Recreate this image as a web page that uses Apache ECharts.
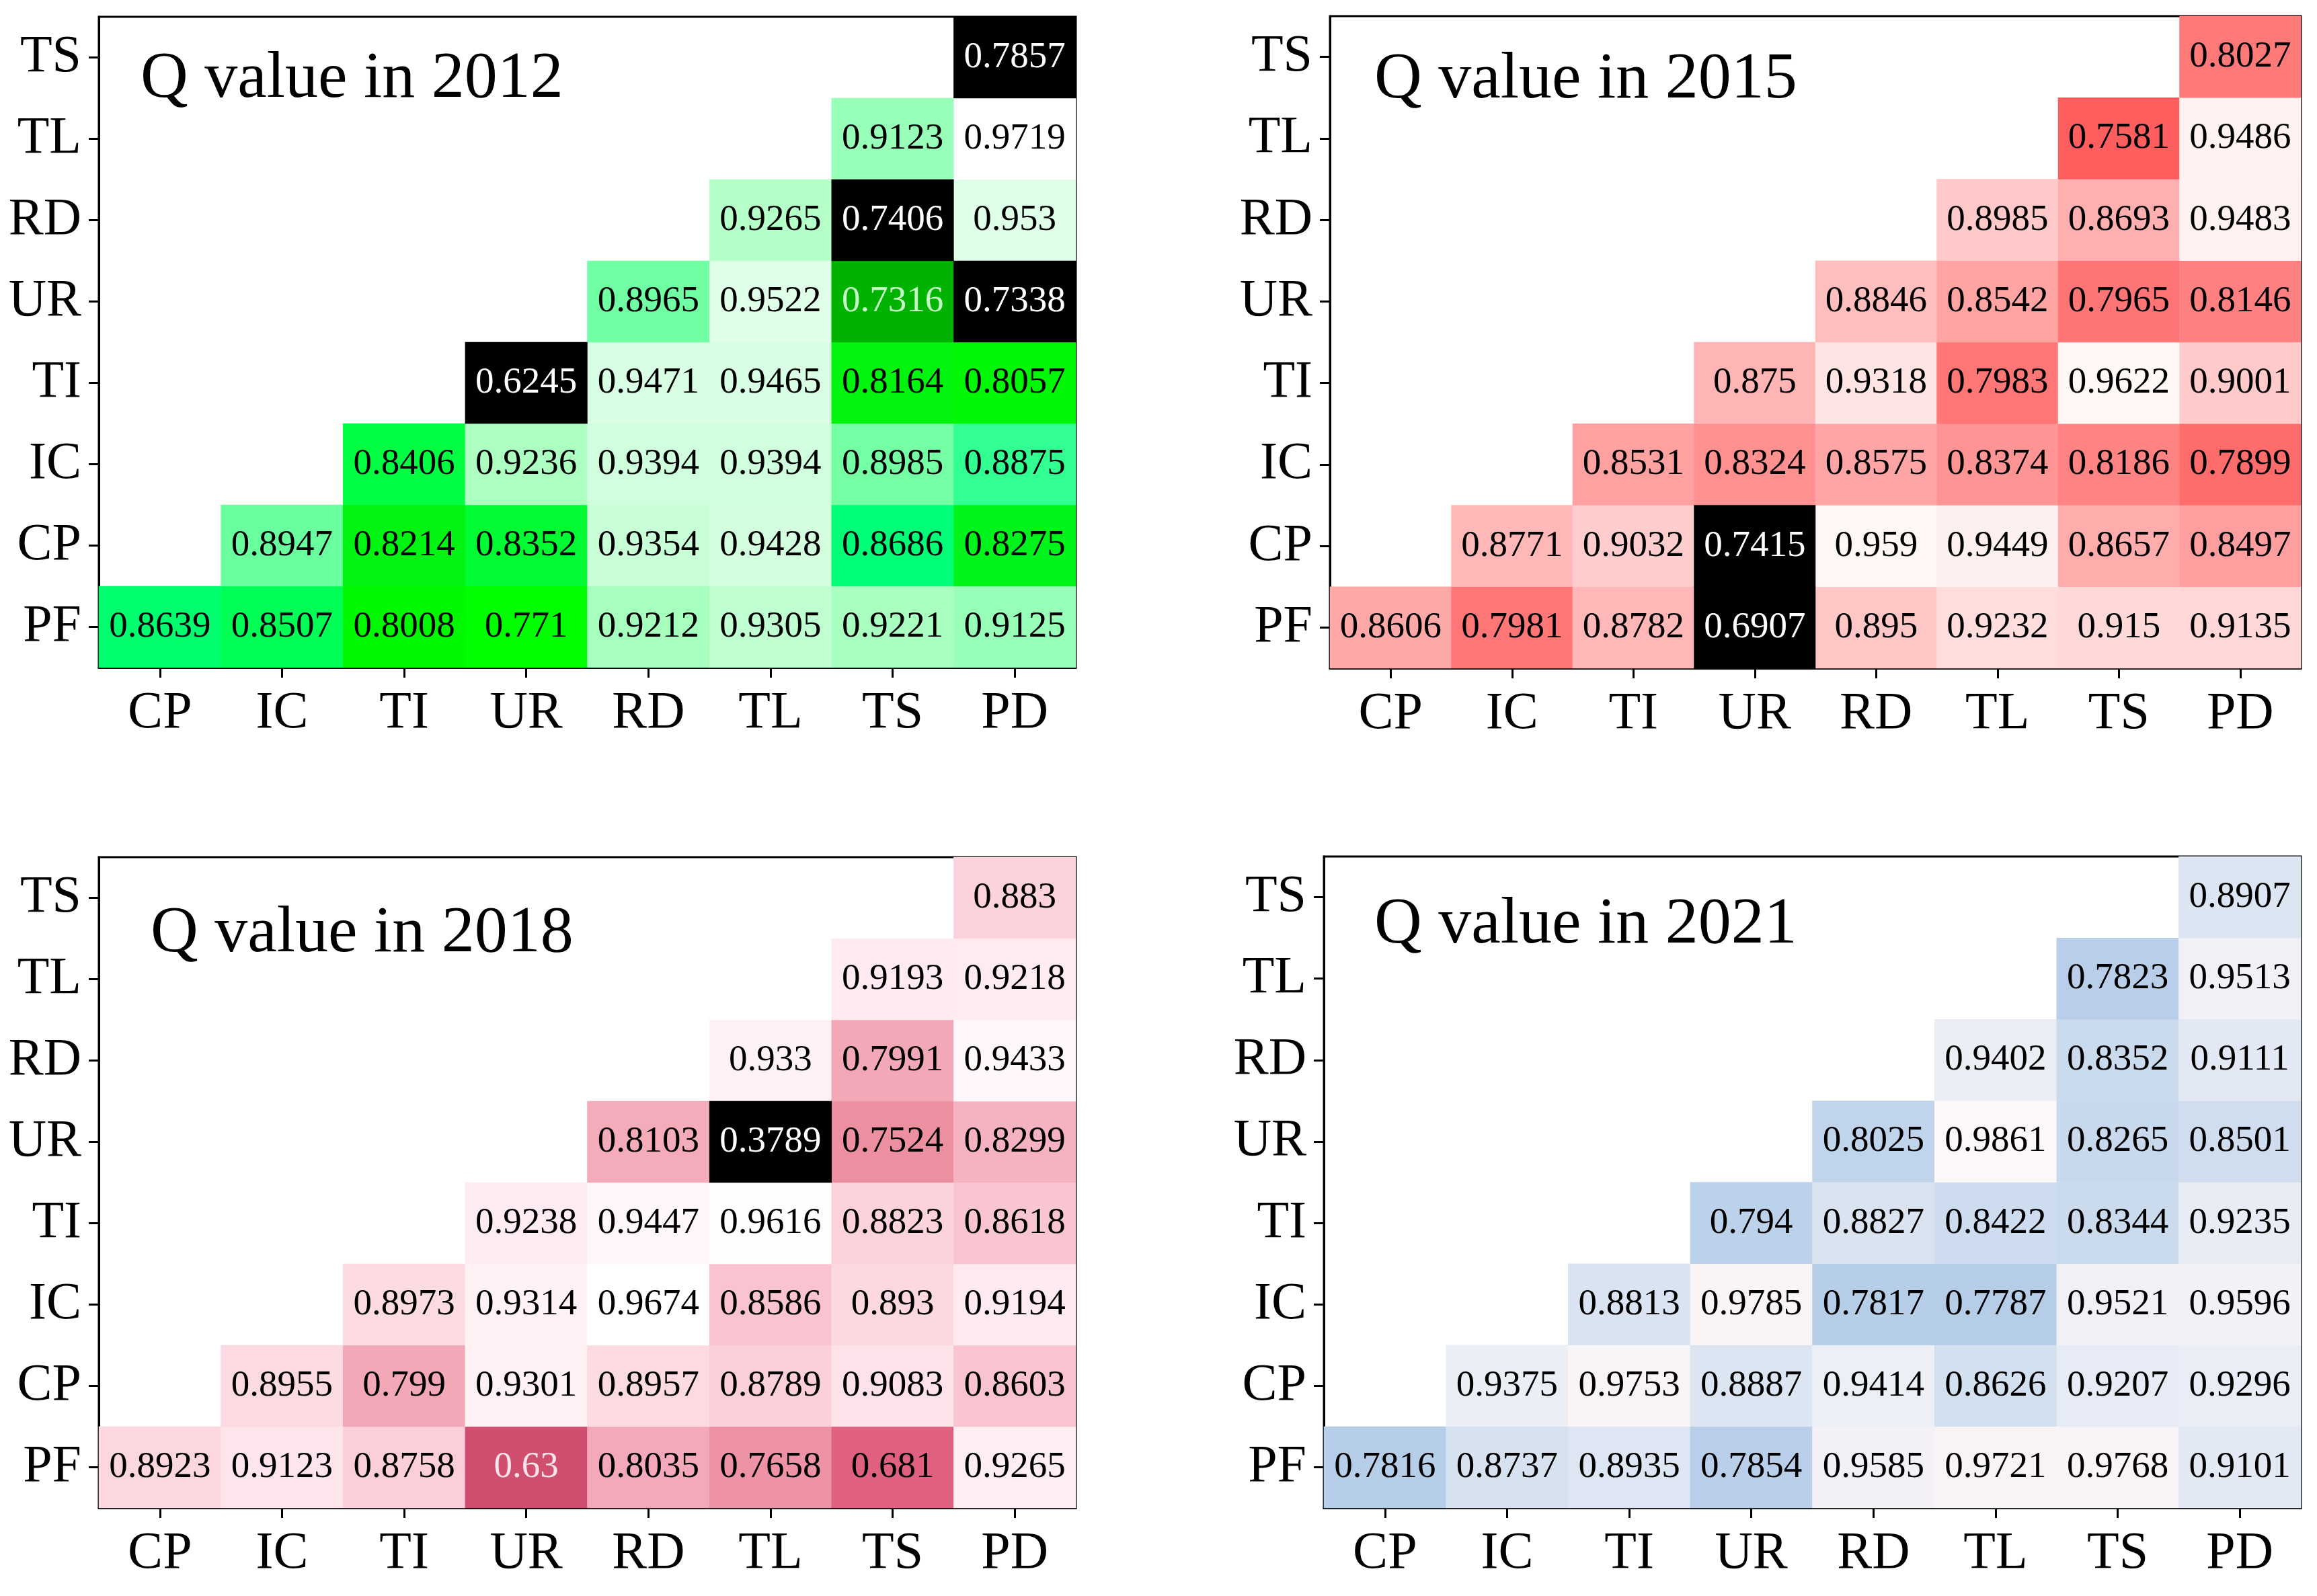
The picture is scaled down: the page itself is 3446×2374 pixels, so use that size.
<!DOCTYPE html>
<html>
<head>
<meta charset="utf-8">
<title>Q value heatmaps</title>
<script src="https://cdn.jsdelivr.net/npm/echarts@6/dist/echarts.min.js"></script>
<style>
html,body{margin:0;padding:0;background:#fff;}
#chart{width:3446px;height:2374px;}
</style>
</head>
<body>
<div id="chart"></div>
<script>
// ---- categories ----
const xCats = ['CP', 'IC', 'TI', 'UR', 'RD', 'TL', 'TS', 'PD'];
const yCats = ['PF', 'CP', 'IC', 'TI', 'UR', 'RD', 'TL', 'TS']; // bottom to top

// ---- values: row i (yCats[i]) starts at column xCats[i] ----
const q2012 = [
  [0.8639, 0.8507, 0.8008, 0.771, 0.9212, 0.9305, 0.9221, 0.9125],
  [0.8947, 0.8214, 0.8352, 0.9354, 0.9428, 0.8686, 0.8275],
  [0.8406, 0.9236, 0.9394, 0.9394, 0.8985, 0.8875],
  [0.6245, 0.9471, 0.9465, 0.8164, 0.8057],
  [0.8965, 0.9522, 0.7316, 0.7338],
  [0.9265, 0.7406, 0.953],
  [0.9123, 0.9719],
  [0.7857]
];
const q2015 = [
  [0.8606, 0.7981, 0.8782, 0.6907, 0.895, 0.9232, 0.915, 0.9135],
  [0.8771, 0.9032, 0.7415, 0.959, 0.9449, 0.8657, 0.8497],
  [0.8531, 0.8324, 0.8575, 0.8374, 0.8186, 0.7899],
  [0.875, 0.9318, 0.7983, 0.9622, 0.9001],
  [0.8846, 0.8542, 0.7965, 0.8146],
  [0.8985, 0.8693, 0.9483],
  [0.7581, 0.9486],
  [0.8027]
];
const q2018 = [
  [0.8923, 0.9123, 0.8758, 0.63, 0.8035, 0.7658, 0.681, 0.9265],
  [0.8955, 0.799, 0.9301, 0.8957, 0.8789, 0.9083, 0.8603],
  [0.8973, 0.9314, 0.9674, 0.8586, 0.893, 0.9194],
  [0.9238, 0.9447, 0.9616, 0.8823, 0.8618],
  [0.8103, 0.3789, 0.7524, 0.8299],
  [0.933, 0.7991, 0.9433],
  [0.9193, 0.9218],
  [0.883]
];
const q2021 = [
  [0.7816, 0.8737, 0.8935, 0.7854, 0.9585, 0.9721, 0.9768, 0.9101],
  [0.9375, 0.9753, 0.8887, 0.9414, 0.8626, 0.9207, 0.9296],
  [0.8813, 0.9785, 0.7817, 0.7787, 0.9521, 0.9596],
  [0.794, 0.8827, 0.8422, 0.8344, 0.9235],
  [0.8025, 0.9861, 0.8265, 0.8501],
  [0.9402, 0.8352, 0.9111],
  [0.7823, 0.9513],
  [0.8907]
];

// ---- highlighted (black) cells: [x category, y category] ----
const black2012 = [['UR', 'TI'], ['PD', 'UR'], ['TS', 'RD'], ['PD', 'TS']];
const black2015 = [['UR', 'PF'], ['UR', 'CP']];
const black2018 = [['TL', 'UR']];
const black2021 = [];

// ---- panel titles ----
const titles = ['Q value in 2012', 'Q value in 2015', 'Q value in 2018', 'Q value in 2021'];

// ---- colour anchors (value, colour) ----
const green = [[0.73, '#00b000'], [0.77, '#00ff00'], [0.80, '#00f800'], [0.825, '#00f214'], [0.84, '#00ff40'],
  [0.86, '#00ff68'], [0.87, '#00ff78'], [0.888, '#33ff92'], [0.895, '#6cffa0'], [0.912, '#98ffb8'],
  [0.922, '#a8ffbe'], [0.93, '#bfffd0'], [0.94, '#d0ffdc'], [0.95, '#dcffe6'], [0.972, '#ffffff']];
const red = [[0.755, '#ff5c5c'], [0.79, '#ff6c6c'], [0.80, '#ff7878'], [0.815, '#ff8080'], [0.83, '#ff8e8e'],
  [0.85, '#ff9f9f'], [0.87, '#ffb0b0'], [0.885, '#ffbebe'], [0.90, '#ffcaca'], [0.915, '#ffd8d8'],
  [0.93, '#ffe2e2'], [0.945, '#fff0f0'], [0.962, '#fff8f6']];
const pink = [[0.63, '#d04f6e'], [0.68, '#e0607f'], [0.75, '#ec8fa0'], [0.77, '#ef93a6'], [0.80, '#f3a8b8'],
  [0.83, '#f5b3c2'], [0.86, '#f9c4d0'], [0.88, '#fcd1db'], [0.90, '#fcdce4'], [0.92, '#feeaef'],
  [0.935, '#fff3f6'], [0.95, '#fff9fb'], [0.962, '#ffffff'], [0.968, '#ffffff']];
const blue = [[0.778, '#b6cde8'], [0.80, '#bfd3eb'], [0.83, '#c9daee'], [0.85, '#cfddef'], [0.87, '#d5e1f0'],
  [0.89, '#dce5f2'], [0.91, '#e3e9f4'], [0.93, '#e9edf5'], [0.95, '#f0f0f6'], [0.97, '#f7f3f6'], [0.987, '#fcf8f8']];

function hex2rgb(h) { return [parseInt(h.slice(1, 3), 16), parseInt(h.slice(3, 5), 16), parseInt(h.slice(5, 7), 16)]; }
function rgb2hex(c) { return '#' + c.map(v => Math.round(v).toString(16).padStart(2, '0')).join(''); }
function ramp(anchors, n) {
  const min = anchors[0][0], max = anchors[anchors.length - 1][0];
  const out = [];
  for (let i = 0; i < n; i++) {
    const v = min + (max - min) * i / (n - 1);
    let k = 0;
    while (k < anchors.length - 2 && v > anchors[k + 1][0]) k++;
    const a = anchors[k], b = anchors[k + 1];
    const t = Math.max(0, Math.min(1, (v - a[0]) / (b[0] - a[0])));
    const ca = hex2rgb(a[1]), cb = hex2rgb(b[1]);
    out.push(rgb2hex(ca.map((x, j) => x + (cb[j] - x) * t)));
  }
  return { min, max, colors: out };
}

const panels = [
  { q: q2012, black: black2012, ramp: green, light: 0.74, lightColor: '#c8ffc8',
    grid: { left: 147, top: 25, width: 1453, height: 968 }, title: [209, 118] },
  { q: q2015, black: black2015, ramp: red, light: 0, lightColor: '#fff',
    grid: { left: 1978, top: 24, width: 1444, height: 970 }, title: [2044, 119] },
  { q: q2018, black: black2018, ramp: pink, light: 0.65, lightColor: '#ffe4ec',
    grid: { left: 147, top: 1275, width: 1453, height: 968 }, title: [224, 1389] },
  { q: q2021, black: black2021, ramp: blue, light: 0, lightColor: '#fff',
    grid: { left: 1969, top: 1274, width: 1453, height: 969 }, title: [2044, 1376] }
];

const FONT = 'Liberation Serif';
const grids = [], xAxes = [], yAxes = [], series = [], visualMaps = [], graphics = [];

panels.forEach((p, k) => {
  grids.push(Object.assign({ show: true, borderColor: '#000', borderWidth: 3, backgroundColor: '#fff' }, p.grid));
  const axisCommon = {
    gridIndex: k, type: 'category',
    axisLine: { show: true, lineStyle: { color: '#000', width: 3 } },
    axisTick: { show: true, alignWithLabel: true, length: 15, lineStyle: { color: '#000', width: 3 } },
    splitLine: { show: false }, splitArea: { show: false }
  };
  xAxes.push(Object.assign({}, axisCommon, {
    data: xCats,
    axisLabel: { fontFamily: FONT, fontSize: 78, color: '#000', margin: 30 }
  }));
  yAxes.push(Object.assign({}, axisCommon, {
    data: yCats,
    axisLabel: { fontFamily: FONT, fontSize: 78, color: '#000', margin: 26 }
  }));

  const isBlack = (xi, yi) => p.black.some(b => b[0] === xCats[xi] && b[1] === yCats[yi]);
  const normal = [], dark = [];
  p.q.forEach((row, yi) => {
    row.forEach((v, j) => {
      const xi = yi + j;
      (isBlack(xi, yi) ? dark : normal).push([xi, yi, v]);
    });
  });

  const r = ramp(p.ramp, 240);
  visualMaps.push({
    type: 'continuous', show: false, seriesIndex: 2 * k, dimension: 2,
    min: r.min, max: r.max, inRange: { color: r.colors }
  });

  const light = p.light, lightColor = p.lightColor;
  series.push({
    type: 'heatmap', xAxisIndex: k, yAxisIndex: k, data: normal,
    label: {
      show: true,
      formatter: prm => (prm.value[2] < light ? '{l|' : '{d|') + prm.value[2] + '}',
      rich: {
        d: { fontFamily: FONT, fontSize: 55, color: '#000' },
        l: { fontFamily: FONT, fontSize: 55, color: lightColor }
      }
    },
    emphasis: { disabled: true }
  });
  series.push({
    type: 'heatmap', xAxisIndex: k, yAxisIndex: k, data: dark,
    itemStyle: { color: '#000' },
    label: { show: true, fontFamily: FONT, fontSize: 55, color: '#fff', formatter: prm => '' + prm.value[2] },
    emphasis: { disabled: true }
  });

  graphics.push({
    type: 'text', x: p.title[0], y: p.title[1], z: 100,
    style: { text: titles[k], fontFamily: FONT, fontSize: 98, fill: '#000', align: 'left', verticalAlign: 'middle' }
  });
});

const chart = echarts.init(document.getElementById('chart'), null, { renderer: 'canvas', width: 3446, height: 2374 });
chart.setOption({
  backgroundColor: '#fff',
  animation: false,
  grid: grids,
  xAxis: xAxes,
  yAxis: yAxes,
  visualMap: visualMaps,
  series: series,
  graphic: graphics
});
</script>
</body>
</html>
